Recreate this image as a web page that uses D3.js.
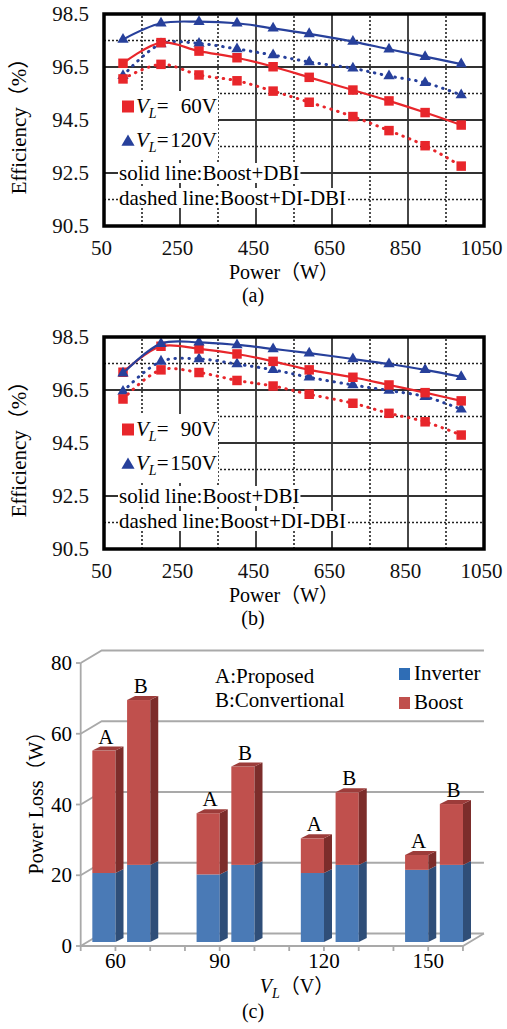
<!DOCTYPE html>
<html lang="en">
<head>
<meta charset="UTF-8">
<title>Efficiency and power loss</title>
<script src="https://d3js.org/d3.v7.min.js"></script>
<style>
  body { margin: 0; background: #fff; }
  svg { display: block; font-family: "Liberation Serif", "Times New Roman", "Noto Sans CJK SC", serif; }
</style>
</head>
<body>
<div id="main"></div>
<script>
// power points (W) of the efficiency curves
const power = [100, 200, 300, 400, 495, 590, 705, 800, 895, 990];

// (a) VL = 60V and 120V, solid = Boost+DBI, dashed = Boost+DI-DBI
const effA60Solid  = [96.64, 97.42, 97.10, 96.85, 96.51, 96.11, 95.63, 95.22, 94.78, 94.31];
const effA60Dash   = [96.05, 96.60, 96.20, 95.98, 95.59, 95.17, 94.63, 94.10, 93.53, 92.76];
const effA120Solid = [97.54, 98.15, 98.21, 98.15, 97.96, 97.75, 97.46, 97.17, 96.89, 96.61];
const effA120Dash  = [96.17, 97.37, 97.39, 97.18, 96.95, 96.69, 96.45, 96.16, 95.91, 95.44];

// (b) VL = 90V and 150V
const effB90Solid  = [97.17, 98.15, 98.05, 97.86, 97.58, 97.26, 96.98, 96.69, 96.40, 96.09];
const effB90Dash   = [96.16, 97.26, 97.16, 96.86, 96.65, 96.34, 96.00, 95.62, 95.30, 94.80];
const effB150Solid = [97.13, 98.25, 98.30, 98.20, 98.05, 97.89, 97.67, 97.48, 97.26, 97.00];
const effB150Dash  = [96.44, 97.58, 97.67, 97.48, 97.26, 96.98, 96.69, 96.48, 96.25, 95.77];

const effTicks = [90.5, 92.5, 94.5, 96.5, 98.5];
const effMinor = [91.5, 93.5, 95.5, 97.5];
const powerTicks = [50, 250, 450, 650, 850, 1050];
const powerMajor = [250, 450, 650, 850];
const powerMinor = [150, 350, 550, 750, 950];

// (c) power loss (W), A = proposed, B = conventional
const vl = ["60", "90", "120", "150"];
const inverterA = [19.5, 19.1, 19.5, 20.4];
const boostA    = [34.6, 17.3, 9.8, 4.2];
const inverterB = [21.8, 21.8, 21.8, 21.8];
const boostB    = [46.6, 27.8, 20.5, 17.2];
const lossTicks = [0, 20, 40, 60, 80];

const W = 507, H = 1029;
const red = "#e8262b", blue = "#27409b";
const fs = 21;

const svg = d3.select("#main").append("svg").attr("width", W).attr("height", H);
svg.append("rect").attr("width", W).attr("height", H).attr("fill", "#fff");

function vlText(g, x, y, val) {
  const t = g.append("text").attr("x", x).attr("y", y).attr("font-size", fs);
  t.append("tspan").attr("font-style", "italic").text("V");
  t.append("tspan").attr("font-style", "italic").attr("font-size", 14).attr("dy", 5).text("L");
  t.append("tspan").attr("dy", -5).text("=");
  g.append("text").attr("x", 217).attr("y", y).attr("font-size", fs)
    .attr("text-anchor", "end").text(val);
}

function effChart(top, series, legendVals, caption) {
  const g = svg.append("g");
  const x = d3.scaleLinear().domain([50, 1050]).range([104, 484]);
  const y = d3.scaleLinear().domain([90.5, 98.5]).range([top + 212, top]);

  // grid
  g.selectAll(".hmin").data(effMinor).join("line")
    .attr("x1", x(50)).attr("x2", x(1050)).attr("y1", d => y(d)).attr("y2", d => y(d))
    .attr("stroke", "#222").attr("stroke-width", 1.6).attr("stroke-dasharray", "2,2");
  g.selectAll(".hmaj").data(effTicks.slice(1, 4)).join("line")
    .attr("x1", x(50)).attr("x2", x(1050)).attr("y1", d => y(d)).attr("y2", d => y(d))
    .attr("stroke", "#333").attr("stroke-width", 1.8);
  g.selectAll(".vmin").data(powerMinor).join("line")
    .attr("x1", d => x(d)).attr("x2", d => x(d)).attr("y1", y(90.5)).attr("y2", y(98.5))
    .attr("stroke", "#222").attr("stroke-width", 1.6).attr("stroke-dasharray", "2,2");
  g.selectAll(".vmaj").data(powerMajor).join("line")
    .attr("x1", d => x(d)).attr("x2", d => x(d)).attr("y1", y(90.5)).attr("y2", y(98.5))
    .attr("stroke", "#333").attr("stroke-width", 1.8);

  // legend box
  g.append("rect").attr("x", x(50) + 1).attr("y", top + 77).attr("width", 113).attr("height", 69).attr("fill", "#fff");
  g.append("path").attr("d", d3.symbol(d3.symbolSquare, 144)())
    .attr("transform", `translate(128,${top + 92.5})`).attr("fill", red);
  g.append("path").attr("d", d3.symbol(d3.symbolTriangle, 75)())
    .attr("transform", `translate(128,${top + 128})`).attr("fill", blue);
  vlText(g, 136, top + 99, legendVals[0]);
  vlText(g, 136, top + 133, legendVals[1]);

  ["solid line:Boost+DBI", "dashed line:Boost+DI-DBI"].forEach((s, i) => {
    const t = g.append("text").attr("x", 119).attr("y", top + 166 + i * 25)
      .attr("font-size", fs).text(s);
    const b = t.node().getBBox();
    g.insert("rect", () => t.node()).attr("x", b.x - 1).attr("y", b.y + 2)
      .attr("width", b.width + 2).attr("height", b.height - 4).attr("fill", "#fff");
  });

  // data
  const line = d3.line().x((d, i) => x(power[i])).y(d => y(d)).curve(d3.curveCatmullRom.alpha(0.5));
  series.forEach(s => {
    g.append("path").datum(s.vals).attr("d", line).attr("fill", "none")
      .attr("stroke", s.color).attr("stroke-width", s.dash ? 3 : 2.2)
      .attr("stroke-linecap", "round")
      .attr("stroke-dasharray", s.dash ? "0.5,6.5" : null);
    g.selectAll(null).data(s.vals).join("path")
      .attr("d", d3.symbol(s.sym, s.sym === d3.symbolSquare ? 90 : 55))
      .attr("transform", (d, i) => `translate(${x(power[i])},${y(d)})`)
      .attr("fill", s.color);
  });

  // frame
  g.append("rect").attr("x", x(50)).attr("y", y(98.5)).attr("width", x(1050) - x(50))
    .attr("height", y(90.5) - y(98.5)).attr("fill", "none").attr("stroke", "#000").attr("stroke-width", 3.5);

  // axes
  const ya = g.append("g").attr("transform", `translate(${x(50)},0)`)
    .call(d3.axisLeft(y).tickValues(effTicks).tickSize(0).tickPadding(15).tickFormat(d3.format(".1f")));
  const xa = g.append("g").attr("transform", `translate(0,${y(90.5)})`)
    .call(d3.axisBottom(x).tickValues(powerTicks).tickSize(0).tickPadding(14).tickFormat(d3.format("d")));
  [ya, xa].forEach(a => {
    a.attr("font-family", null).attr("font-size", null);
    a.select(".domain").remove();
    a.selectAll("text").attr("font-size", fs).attr("fill", "#111");
  });
  xa.selectAll("text").attr("dx", -3);

  g.append("text").attr("x", 284).attr("y", top + 265).attr("text-anchor", "middle")
    .attr("font-size", 20).text("Power（W）");
  g.append("text").attr("transform", `translate(26,${top + 107}) rotate(-90)`)
    .attr("text-anchor", "middle").attr("font-size", fs).text("Efficiency（%）");
  g.append("text").attr("x", 253).attr("y", top + 288).attr("text-anchor", "middle")
    .attr("font-size", 20).text(caption);
}

effChart(14, [
  { vals: effA120Solid, color: blue, dash: false, sym: d3.symbolTriangle },
  { vals: effA120Dash, color: blue, dash: true, sym: d3.symbolTriangle },
  { vals: effA60Solid, color: red, dash: false, sym: d3.symbolSquare },
  { vals: effA60Dash, color: red, dash: true, sym: d3.symbolSquare }
], ["60V", "120V"], "(a)");

effChart(337, [
  { vals: effB150Dash, color: blue, dash: true, sym: d3.symbolTriangle },
  { vals: effB90Dash, color: red, dash: true, sym: d3.symbolSquare },
  { vals: effB90Solid, color: red, dash: false, sym: d3.symbolSquare },
  { vals: effB150Solid, color: blue, dash: false, sym: d3.symbolTriangle }
], ["90V", "150V"], "(b)");

// (c) 3D stacked columns
const gc = svg.append("g");
const yC = d3.scaleLinear().domain([0, 80]).range([946, 663]);
const wall = { dx: 21, dy: -12.5 };
const barOff = { dx: 7, dy: -4 };
const depth = { dx: 8, dy: -4 };
const step = 34.75;
const xG = d3.scaleBand().domain(vl).range([80.7, 80.7 + 12 * step]);
const xS = d3.scaleBand().domain(["A", "B"]).range([0, 2 * step])
  .paddingInner(1 / 3).paddingOuter(1 / 6).align(0.4);
const axisEnd = 80.7 + 11 * step;
const gridCol = "#a9a9a9";

lossTicks.forEach(v => {
  gc.append("polyline")
    .attr("points", [[80.7, yC(v)], [80.7 + wall.dx, yC(v) + wall.dy], [axisEnd + wall.dx, yC(v) + wall.dy]].join(" "))
    .attr("fill", "none").attr("stroke", gridCol).attr("stroke-width", 1.8);
  gc.append("line").attr("x1", 76).attr("x2", 80.7).attr("y1", yC(v)).attr("y2", yC(v))
    .attr("stroke", gridCol).attr("stroke-width", 1.8);
});
gc.append("line").attr("x1", 80.7).attr("x2", 80.7).attr("y1", yC(0)).attr("y2", yC(80))
  .attr("stroke", gridCol).attr("stroke-width", 1.8);
gc.append("polyline")
  .attr("points", [[80.7, yC(0)], [axisEnd, yC(0)], [axisEnd + wall.dx, yC(0) + wall.dy]].join(" "))
  .attr("fill", "none").attr("stroke", gridCol).attr("stroke-width", 1.8);
gc.selectAll(".xt").data(d3.range(12)).join("line")
  .attr("x1", i => 80.7 + i * step).attr("x2", i => 80.7 + i * step)
  .attr("y1", yC(0)).attr("y2", yC(0) + 5).attr("stroke", gridCol).attr("stroke-width", 1.8);

const cols = {
  inv: { front: "#4a7ab6", side: "#2f4e78", top: "#3d6498" },
  boost: { front: "#c0504d", side: "#7c2d2b", top: "#9c3c3a" }
};

function bar3d(x0, bw, v0, v1, c, withTop) {
  const x1 = x0 + bw, yb = yC(v0) + barOff.dy, yt = yC(v1) + barOff.dy;
  gc.append("rect").attr("x", x0).attr("y", yt).attr("width", bw).attr("height", yb - yt).attr("fill", c.front);
  gc.append("polygon").attr("points", [[x1, yt], [x1 + depth.dx, yt + depth.dy], [x1 + depth.dx, yb + depth.dy], [x1, yb]].join(" "))
    .attr("fill", c.side);
  if (withTop) {
    gc.append("polygon").attr("points", [[x0, yt], [x0 + depth.dx, yt + depth.dy], [x1 + depth.dx, yt + depth.dy], [x1, yt]].join(" "))
      .attr("fill", c.top);
  }
}

vl.forEach((c, i) => {
  [["A", inverterA[i], boostA[i]], ["B", inverterB[i], boostB[i]]].forEach(([s, inv, bst]) => {
    const x0 = xG(c) + xS(s) + barOff.dx, bw = xS.bandwidth();
    bar3d(x0, bw, 0, inv, cols.inv, false);
    bar3d(x0, bw, inv, inv + bst, cols.boost, true);
    gc.append("text").attr("x", x0 + bw / 2 + 2).attr("y", yC(inv + bst) + barOff.dy + depth.dy - 3)
      .attr("text-anchor", "middle").attr("font-size", fs).text(s);
  });
  gc.append("text").attr("x", xG(c) + step).attr("y", 968).attr("text-anchor", "middle")
    .attr("font-size", fs).text(c);
});

gc.selectAll(".yl").data(lossTicks).join("text")
  .attr("x", 72).attr("y", d => yC(d) + 7).attr("text-anchor", "end").attr("font-size", fs).text(d => d);

gc.append("text").attr("transform", "translate(43,798) rotate(-90)").attr("text-anchor", "middle")
  .attr("font-size", 20).text("Power Loss（W）");
const xt = gc.append("text").attr("x", 297).attr("y", 993).attr("text-anchor", "middle").attr("font-size", 20);
xt.append("tspan").attr("font-style", "italic").text("V");
xt.append("tspan").attr("font-style", "italic").attr("font-size", 14).attr("dy", 5).text("L");
xt.append("tspan").attr("dy", -5).text("（V）");
gc.append("text").attr("x", 253).attr("y", 1018).attr("text-anchor", "middle").attr("font-size", 20).text("(c)");

// legend
gc.append("text").attr("x", 215).attr("y", 683).attr("font-size", fs).text("A:Proposed");
gc.append("text").attr("x", 215).attr("y", 707).attr("font-size", fs).text("B:Convertional");
gc.append("rect").attr("x", 399).attr("y", 668).attr("width", 11).attr("height", 12).attr("fill", "#2f6db5");
gc.append("rect").attr("x", 399).attr("y", 697).attr("width", 11).attr("height", 12).attr("fill", "#c0504d");
gc.append("text").attr("x", 414).attr("y", 680).attr("font-size", fs).text("Inverter");
gc.append("text").attr("x", 414).attr("y", 709).attr("font-size", fs).text("Boost");
</script>
</body>
</html>
